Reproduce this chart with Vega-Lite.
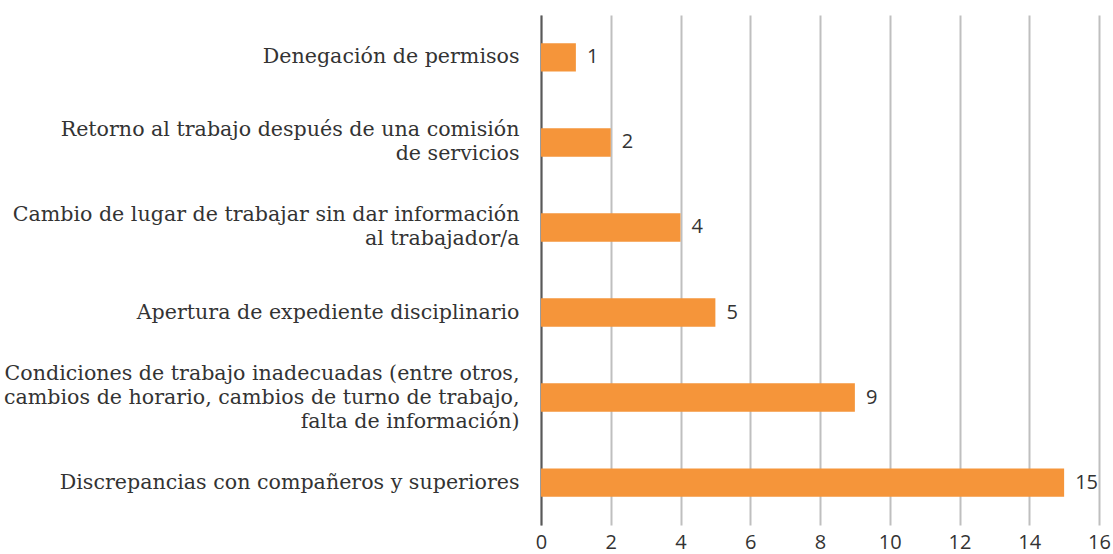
{
  "$schema": "https://vega.github.io/schema/vega-lite/v6.json",
  "autosize": {"type": "none"},
  "padding": {"left": 541, "top": 15, "right": 14, "bottom": 29},
  "width": 558,
  "height": 510,
  "background": "white",
  "data": {"values": [
    {"categoria": "Denegación de permisos", "valor": 1},
    {"categoria": "Retorno al trabajo después de una comisión\nde servicios", "valor": 2},
    {"categoria": "Cambio de lugar de trabajar sin dar información\nal trabajador/a", "valor": 4},
    {"categoria": "Apertura de expediente disciplinario", "valor": 5},
    {"categoria": "Condiciones de trabajo inadecuadas (entre otros,\ncambios de horario, cambios de turno de trabajo,\nfalta de información)", "valor": 9},
    {"categoria": "Discrepancias con compañeros y superiores", "valor": 15}
  ]},
  "config": {"view": {"stroke": null}},
  "encoding": {
    "y": {"field": "categoria", "type": "nominal", "sort": null,
      "scale": {"paddingInner": 0.667, "paddingOuter": 0.333},
      "axis": {"title": null, "ticks": false, "domain": true, "domainColor": "#595959", "domainWidth": 2,
        "labelFont": "DejaVu Serif", "labelFontSize": 20.6, "labelColor": "#333333", "labelPadding": 22,
        "labelLimit": 600, "labelLineHeight": 24,
        "labelOffset": {"condition": [
          {"test": "indexof(datum.value, 'Condiciones') >= 0", "value": -24},
          {"test": "indexof(datum.value, '\\n') >= 0", "value": -12}
        ], "value": 0},
        "labelExpr": "split(datum.label, '\\n')"}},
    "x": {"field": "valor", "type": "quantitative",
      "scale": {"domain": [0, 16]},
      "axis": {"title": null, "values": [0,2,4,6,8,10,12,14,16], "ticks": false, "domain": false,
        "grid": true, "gridColor": "#BFBFBF", "gridWidth": 2, "labelFlush": false,
        "labelFont": "Open Sans", "labelFontSize": 20, "labelColor": "#333333", "labelPadding": 7}}
  },
  "layer": [
    {"mark": {"type": "bar", "color": "#F5953A"}},
    {"mark": {"type": "text", "align": "left", "baseline": "middle", "dx": 11, "font": "Open Sans", "fontSize": 20, "color": "#333333"},
      "encoding": {"text": {"field": "valor", "type": "quantitative"}}}
  ]
}
